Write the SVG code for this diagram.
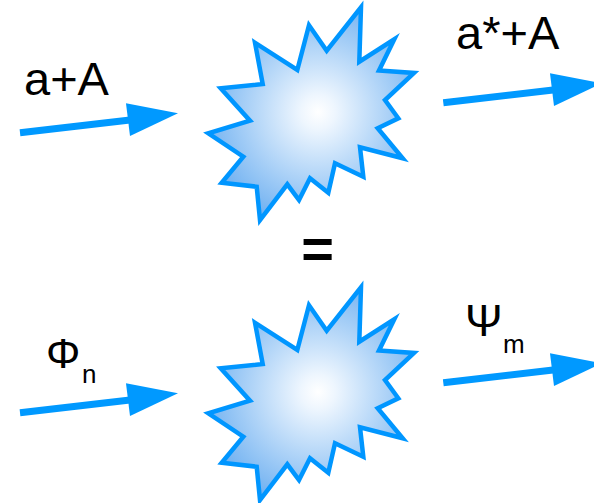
<svg xmlns="http://www.w3.org/2000/svg" xmlns:xlink="http://www.w3.org/1999/xlink" width="594" height="503" viewBox="0 0 594 503">
<style>
.star{stroke:#0096ff;stroke-width:4.5;stroke-linejoin:miter;stroke-miterlimit:10}
.arr{stroke:#0099ff;stroke-width:7;fill:none}
.head{fill:#0099ff}
.lbl{font-family:"Liberation Sans",Arial,sans-serif;fill:#000}
</style>
<defs>
<radialGradient id="g" gradientUnits="userSpaceOnUse" cx="318" cy="112" r="115">
<stop offset="0" stop-color="#ffffff"/>
<stop offset="0.15" stop-color="#eef6fe"/>
<stop offset="1" stop-color="#72b2f1"/>
</radialGradient>
<polygon id="burst" points="361,7.3 359.3,61.7 394.3,39.3 379,70.5 414,73 385,100 398.3,118.3 377.7,128.3 402.7,158.3 360,147.3 363.3,176.7 335,163.3 328.3,192.7 310,178.3 299,200 287.3,184.3 260,220 256.7,186.7 221.7,182.7 243.3,156.7 208.3,133.3 250,120.7 220.7,88.3 262.7,84 255,42.7 297.3,70 309,25.3 326.7,50.7"/>
</defs>
<g id="star-top">
<use xlink:href="#burst" class="star" fill="url(#g)"/>
</g>
<g id="star-bottom" transform="translate(0,280)">
<use xlink:href="#burst" class="star" fill="url(#g)"/>
</g>
<g id="connectors">
<g id="arrow-in-top">
<line class="arr" x1="20" y1="132.7" x2="130" y2="120"/>
<polygon class="head" points="126,103.3 178,113.3 130,136"/>
</g>
<g id="arrow-out-top">
<line class="arr" x1="443.3" y1="102.7" x2="553" y2="90"/>
<polygon class="head" points="550,73.3 601.6,83.3 554,106"/>
</g>
<g id="arrow-in-bottom">
<line class="arr" x1="20" y1="412.7" x2="130" y2="400"/>
<polygon class="head" points="126,383.3 178,393.3 130,416"/>
</g>
<g id="arrow-out-bottom">
<line class="arr" x1="443.3" y1="382.7" x2="553" y2="370"/>
<polygon class="head" points="550,353.3 601.6,363.3 554,386"/>
</g>
</g>
<g id="labels">
<text class="lbl" x="24" y="95" font-size="47">a+A</text>
<text class="lbl" x="456" y="49.3" font-size="47">a*+A</text>
<text class="lbl" x="317.5" y="268" font-size="56" text-anchor="middle" font-weight="bold">=</text>
<text class="lbl" x="46" y="368.3" font-size="43">Φ</text>
<text class="lbl" x="82" y="383.3" font-size="26">n</text>
<text class="lbl" x="465" y="336" font-size="45">Ψ</text>
<text class="lbl" x="503" y="353.3" font-size="26">m</text>
</g>
</svg>
